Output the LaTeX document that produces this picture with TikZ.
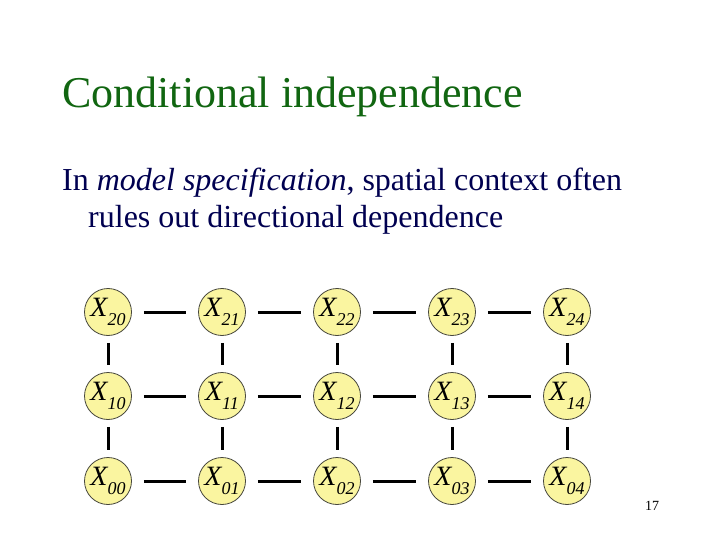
\documentclass[tikz,border=0pt]{standalone}
\usepackage{fontspec}
\setmainfont{Liberation Serif}
\definecolor{titlegreen}{RGB}{17,102,17}
\definecolor{bodynavy}{RGB}{0,0,80}
\definecolor{nodefill}{RGB}{250,245,160}
\definecolor{nodeline}{RGB}{70,70,60}
\begin{document}
\begin{tikzpicture}[x=1pt,y=-1pt,
  var/.style={circle,draw=nodeline,line width=0.8pt,fill=nodefill,minimum size=47pt,inner sep=0pt,
    font=\fontsize{28}{28}\selectfont\itshape},
  vlink/.style={line width=3pt,black,shorten <=7pt,shorten >=7pt},
  hlink/.style={line width=3pt,black,shorten <=12pt,shorten >=12pt}]
\useasboundingbox (0,0) rectangle (720,540);
\node[anchor=base west,text=titlegreen,font=\fontsize{44}{44}\selectfont,inner sep=0pt] (title) at (62,108) {Conditional independence};
\node[anchor=base west,text=bodynavy,font=\fontsize{32}{32}\selectfont,inner sep=0pt] (l1) at (62,191) {In \textit{model specification}, spatial context often};
\node[anchor=base west,text=bodynavy,font=\fontsize{32}{32}\selectfont,inner sep=0pt] (l2) at (88,228) {rules out directional dependence};
\foreach \r/\y in {2/312,1/396,0/481}{
  \foreach \c/\x in {0/108,1/222,2/337,3/452,4/567}{
    \node[var] (n\r\c) at (\x,\y) {X\raisebox{-0.3em}{\fontsize{18}{18}\selectfont\r\c}};
  }
}
\foreach \r in {0,1,2}{
  \foreach \c/\d in {0/1,1/2,2/3,3/4}{
    \draw[hlink] (n\r\c) -- (n\r\d);
  }
}
\foreach \c in {0,...,4}{
  \draw[vlink] (n2\c) -- (n1\c);
  \draw[vlink] (n1\c) -- (n0\c);
}
\node[anchor=base,font=\fontsize{14}{14}\selectfont,inner sep=0pt] (page) at (652,510) {17};
\end{tikzpicture}
\end{document}
